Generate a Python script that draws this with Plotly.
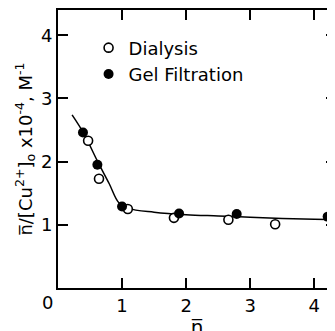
import plotly.graph_objects as go

# Data
dial_x = [0.47, 0.64, 1.09, 1.81, 2.66, 3.39]
dial_y = [2.33, 1.73, 1.25, 1.11, 1.08, 1.01]
gel_x = [0.39, 0.615, 1.00, 1.89, 2.79, 4.21]
gel_y = [2.46, 1.95, 1.29, 1.18, 1.17, 1.13]
fit_x = [0.22, 0.40, 0.62, 0.80, 0.95, 1.10, 1.50, 2.00, 2.50, 3.00, 3.50, 4.00, 4.40]
fit_y = [2.74, 2.45, 2.00, 1.65, 1.35, 1.26, 1.20, 1.16, 1.14, 1.12, 1.10, 1.09, 1.08]
x_ticks = [1, 2, 3, 4]
y_ticks = [1, 2, 3, 4]

FONT = "DejaVu Sans"

fig = go.Figure()
fig.add_trace(go.Scatter(x=fit_x, y=fit_y, mode="lines", line=dict(color="black", width=1.5, shape="spline"),
                         showlegend=False, hoverinfo="skip"))
fig.add_trace(go.Scatter(x=dial_x, y=dial_y, mode="markers", name="Dialysis",
                         marker=dict(symbol="circle", size=9, color="white", line=dict(color="black", width=1.6))))
fig.add_trace(go.Scatter(x=gel_x, y=gel_y, mode="markers", name="Gel Filtration",
                         marker=dict(symbol="circle", size=10, color="black", line=dict(color="black", width=0))))
# right-side ticks
fig.add_trace(go.Scatter(x=[None], y=[None], yaxis="y2", showlegend=False))

fig.update_layout(
    width=335, height=331,
    margin=dict(l=50, r=7, t=2, b=51),
    paper_bgcolor="white", plot_bgcolor="white",
    font=dict(family=FONT, size=18, color="black"),
    xaxis=dict(range=[0, 4.34], tickvals=x_ticks, ticktext=[str(v) for v in x_ticks],
               ticks="inside", ticklen=10, tickwidth=2, tickcolor="black",
               showline=True, linewidth=2, linecolor="black", mirror="ticks",
               showgrid=False, zeroline=False, automargin=False,
               title=dict(text="n\u0305", font=dict(size=20), standoff=0)),
    yaxis=dict(range=[0, 4.4], tickvals=y_ticks, ticktext=[str(v) for v in y_ticks],
               ticks="inside", ticklen=10, tickwidth=2, tickcolor="black",
               showline=True, linewidth=2, linecolor="black",
               showgrid=False, zeroline=False, automargin=False,
               title=dict(text="n\u0305/[Cu<sup>2+</sup>]<sub>o</sub> x10<sup>-4</sup>, M<sup>-1</sup>",
                          font=dict(size=18), standoff=4)),
    yaxis2=dict(overlaying="y", side="right", matches="y", tickvals=y_ticks, ticks="inside",
                ticklen=10, tickwidth=2, tickcolor="black", showticklabels=False,
                showline=False, showgrid=False, zeroline=False, automargin=False),
    legend=dict(x=0.11, y=0.93, xanchor="left", yanchor="top", bgcolor="rgba(0,0,0,0)",
                font=dict(family=FONT, size=18), tracegroupgap=0),
    annotations=[dict(x=0, y=0, xref="x", yref="y", text="0", showarrow=False,
                      xanchor="right", yanchor="top", xshift=-3, yshift=-2, font=dict(size=18))],
)

fig.write_html("out.html")
